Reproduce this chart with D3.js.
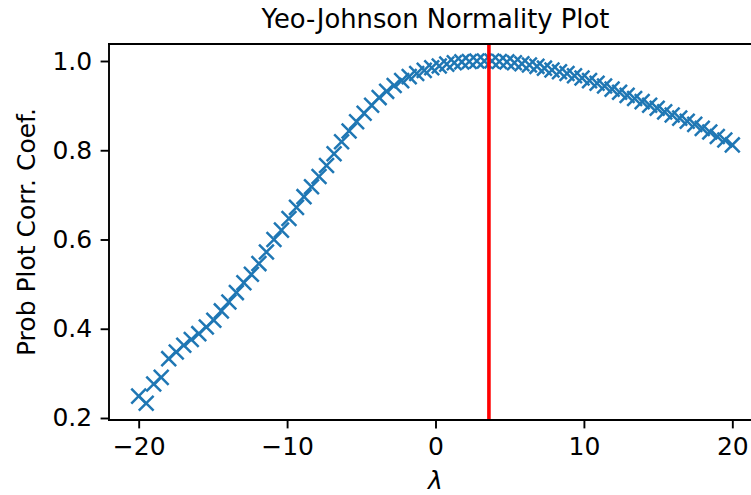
<!DOCTYPE html>
<html>
<head>
<meta charset="utf-8">
<script src="https://cdn.jsdelivr.net/npm/d3@7"></script>
<style>
  html, body { margin: 0; padding: 0; background: #fff; }
  svg { display: block; }
  text { font-family: "DejaVu Sans", sans-serif; fill: #000; }
</style>
</head>
<body>
<svg id="chart" width="751" height="495"></svg>
<script>
// ---- data ----
const lambdaMin = -20;
const lambdaMax = 20;
const nPoints = 80;
const ppccValues = [
  0.249, 0.233, 0.276, 0.291, 0.333, 0.348, 0.363, 0.376, 0.389, 0.404,
  0.419, 0.440, 0.460, 0.481, 0.503, 0.522, 0.546, 0.572, 0.600, 0.621,
  0.647, 0.672, 0.696, 0.718, 0.741, 0.766, 0.792, 0.819, 0.843, 0.864,
  0.883, 0.901, 0.918, 0.932, 0.945, 0.956, 0.965, 0.972, 0.979, 0.985,
  0.989, 0.993, 0.996, 0.998, 0.999, 1.000, 1.000, 1.000, 0.999, 0.998,
  0.996, 0.994, 0.991, 0.988, 0.984, 0.980, 0.976, 0.972, 0.967, 0.962,
  0.956, 0.950, 0.944, 0.937, 0.930, 0.923, 0.916, 0.909, 0.901, 0.894,
  0.886, 0.879, 0.872, 0.865, 0.858, 0.849, 0.841, 0.831, 0.823, 0.812
];
// lambda grid: evenly spaced from lambdaMin to lambdaMax (the x positions of the plot)
const lambdas = d3.range(nPoints).map(i => lambdaMin + i * (lambdaMax - lambdaMin) / (nPoints - 1));
const optimalLambda = 3.6;
const xTicks = [-20, -10, 0, 10, 20];
const yTicks = [0.2, 0.4, 0.6, 0.8, 1.0];
const titleText = "Yeo-Johnson Normality Plot";
const xLabelText = "λ";
const yLabelText = "Prob Plot Corr. Coef.";

// ---- layout ----
const plot = { left: 109, right: 762, top: 44, bottom: 420 };
const svg = d3.select("#chart");

const x = d3.scaleLinear().domain([-22, 22]).range([plot.left, plot.right]);
const y = d3.scaleLinear().domain([0.1955, 1.0381]).range([plot.bottom, plot.top]);

const blue = "#1f77b4";
const tickLen = 8.4, tickPad = 8.4, spineW = 1.9;

svg.append("defs").append("clipPath").attr("id", "clip")
  .append("rect").attr("x", plot.left).attr("y", plot.top)
  .attr("width", plot.right - plot.left).attr("height", plot.bottom - plot.top);

const g = svg.append("g").attr("clip-path", "url(#clip)");

// markers 'x'
const half = 7.4;
const pts = lambdas.map((l, i) => ({ l, v: ppccValues[i] }));
const mk = g.append("g").attr("stroke", blue).attr("stroke-width", 2.5).attr("fill", "none");
mk.selectAll("path").data(pts).join("path")
  .attr("d", d => {
    const cx = x(d.l), cy = y(d.v);
    return `M${cx - half},${cy - half}L${cx + half},${cy + half}M${cx - half},${cy + half}L${cx + half},${cy - half}`;
  });

// red vertical line at optimal lambda
g.append("line")
  .attr("x1", x(optimalLambda)).attr("x2", x(optimalLambda))
  .attr("y1", plot.top).attr("y2", plot.bottom)
  .attr("stroke", "#ff0000").attr("stroke-width", 3.6);

// spines
const sp = svg.append("g").attr("stroke", "#000").attr("stroke-width", spineW).attr("stroke-linecap", "square");
sp.append("line").attr("x1", plot.left).attr("x2", plot.left).attr("y1", plot.top).attr("y2", plot.bottom);
sp.append("line").attr("x1", plot.left).attr("x2", plot.right).attr("y1", plot.bottom).attr("y2", plot.bottom);
sp.append("line").attr("x1", plot.left).attr("x2", plot.right).attr("y1", plot.top).attr("y2", plot.top);

// x axis
const xAxis = d3.axisBottom(x).tickValues(xTicks).tickSizeInner(tickLen).tickSizeOuter(0).tickPadding(tickPad)
  .tickFormat(d => d < 0 ? "\u2212" + Math.abs(d) : String(d));
const gx = svg.append("g").attr("transform", `translate(0,${plot.bottom})`).call(xAxis);
gx.select(".domain").remove();
gx.selectAll(".tick line").attr("stroke", "#000").attr("stroke-width", spineW);
gx.selectAll(".tick text").attr("font-size", 25).attr("font-family", "DejaVu Sans").attr("fill", "#000");

// y axis
const yAxis = d3.axisLeft(y).tickValues(yTicks).tickSizeInner(tickLen).tickSizeOuter(0).tickPadding(tickPad)
  .tickFormat(d3.format(".1f"));
const gy = svg.append("g").attr("transform", `translate(${plot.left},0)`).call(yAxis);
gy.select(".domain").remove();
gy.selectAll(".tick line").attr("stroke", "#000").attr("stroke-width", spineW);
gy.selectAll(".tick text").attr("font-size", 25).attr("font-family", "DejaVu Sans").attr("fill", "#000");

// title
svg.append("text").attr("x", (plot.left + plot.right) / 2).attr("y", 28)
  .attr("text-anchor", "middle").attr("font-size", 25.8).text(titleText);

// x label
svg.append("text").attr("x", (plot.left + plot.right) / 2).attr("y", 489)
  .attr("text-anchor", "middle").attr("font-size", 25).attr("font-style", "italic").text(xLabelText);

// y label
svg.append("text")
  .attr("transform", `translate(35,${(plot.top + plot.bottom) / 2}) rotate(-90)`)
  .attr("text-anchor", "middle").attr("font-size", 25).text(yLabelText);
</script>
</body>
</html>
